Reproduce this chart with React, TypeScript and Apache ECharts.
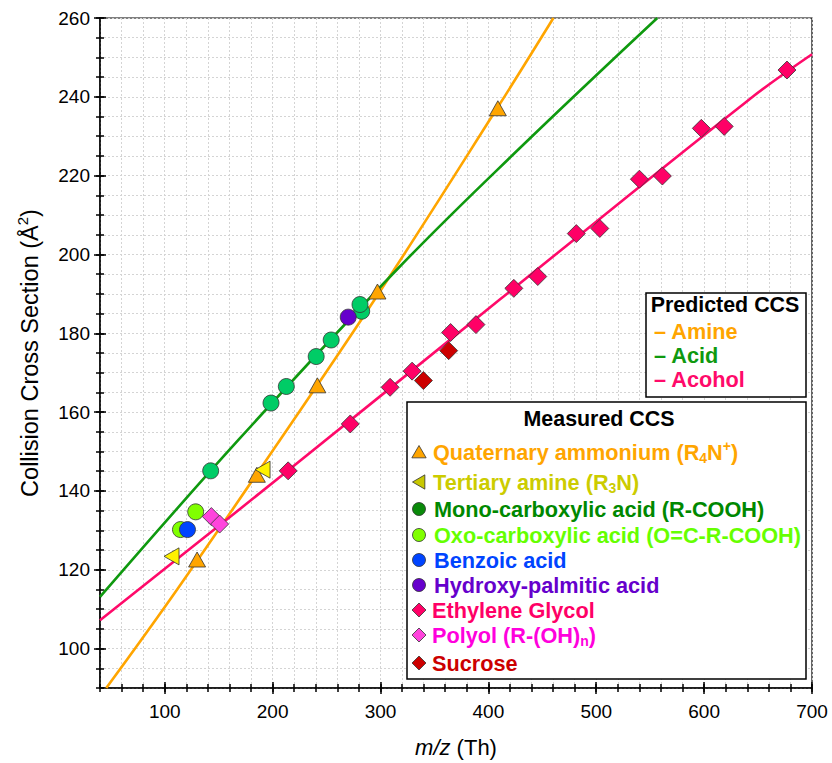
import React, { useEffect, useRef } from 'react';
import * as echarts from 'echarts';

// ---------- data ----------
const xLabelValues = [100, 200, 300, 400, 500, 600, 700];
const yLabelValues = [100, 120, 140, 160, 180, 200, 220, 240, 260];

// predicted CCS curves
const amineFit = [[45.8, 90], [111.5, 115], [207, 153], [300.4, 191], [408.8, 237.4], [460.3, 260]];
const acidFit = [[40, 113.1], [168.5, 153], [316.4, 196.5], [427.3, 226.5], [556.6, 260]];
const alcoholFit = [[40, 107.2], [214, 145.1], [410.3, 188.5], [639.8, 238.9], [700, 250.8]];

// measured CCS
const quaternaryAmmonium = [[130, 122.6], [185.4, 144.1], [241.5, 166.8], [297.2, 190.6], [408.8, 237.1]];
const tertiaryAmine = [[106.3, 123.4], [190.7, 145.4]];
const monoCarboxylic = [[142.6, 145.1], [198.5, 162.3], [212.7, 166.5], [240.4, 174.1], [254.3, 178.3], [282.6, 185.6], [281, 187.3]];
const oxoCarboxylic = [[114.6, 130.2], [128.7, 134.7]];
const benzoicAcid = [[121.1, 130.2]];
const hydroxyPalmitic = [[270.1, 184.1]];
const sucrose = [[339.8, 168.0], [363.2, 175.6]];
const ethyleneGlycol = [[214.4, 145.1], [272, 157], [308.9, 166.3], [329.3, 170.4], [365, 180.2], [388.5, 182.2], [423.6, 191.4], [445.8, 194.4], [481.5, 205.3], [503.3, 206.6], [540, 219.1], [561.3, 219.9], [597.4, 232], [618.6, 232.5], [676.8, 246.8]];
const polyol = [[143.2, 133.5], [150.9, 131.6]];

const FONT = '"Liberation Sans", Arial, Helvetica, sans-serif';
const LEG_FS = 21.7;
const TITLE_FS = 21.4;

const C = {
  amine: '#FFA500',
  acidLine: '#0F990F',
  alcohol: '#FF0A6A',
  tertiary: '#FFF200',
  tertiaryText: '#CCCC00',
  mono: '#00CC66',
  monoLegend: '#0A8A0A',
  monoText: '#008800',
  oxo: '#80FF00',
  oxoText: '#66FF00',
  benzoic: '#0044FF',
  hydroxy: '#6600CC',
  ethylene: '#FF0066',
  polyol: '#FF44DD',
  polyolText: '#FF00DD',
  sucrose: '#CC0000',
};

const lineSeries = (name: string, data: number[][], color: string) => ({
  name,
  type: 'line',
  data,
  smooth: 0.4,
  showSymbol: false,
  symbol: 'none',
  lineStyle: { color, width: 2.6 },
  z: 2,
  silent: true,
});

const scatterSeries = (name: string, data: number[][], color: string, symbol: string, size: any, rotate = 0) => ({
  name,
  type: 'scatter',
  data,
  symbol,
  symbolSize: size,
  symbolRotate: rotate,
  itemStyle: { color, borderColor: '#333', borderWidth: 0.8, opacity: 1 },
  z: 3,
});

const legendText = (x: number, y: number, text: string, color: string) => ({
  type: 'text',
  x,
  y,
  z: 101,
  style: {
    text,
    fill: color,
    font: `bold ${LEG_FS}px ${FONT}`,
    fontSize: LEG_FS,
    fontWeight: 'bold',
    fontFamily: FONT,
    align: 'left',
    textAlign: 'left',
    verticalAlign: 'middle',
    textVerticalAlign: 'middle',
    rich: {
      sub: { fill: color, fontSize: 14, fontWeight: 'bold', fontFamily: FONT, padding: [11, 0, 0, 0] },
      sup: { fill: color, fontSize: 14, fontWeight: 'bold', fontFamily: FONT, padding: [0, 0, 13, 0] },
    },
  },
});

const tri = (cx: number, cy: number, s: number, fill: string, dir: 'up' | 'left') => ({
  type: 'polygon',
  z: 101,
  shape: {
    points: dir === 'up'
      ? [[cx, cy - s * 0.5], [cx + s * 0.55, cy + s * 0.45], [cx - s * 0.55, cy + s * 0.45]]
      : [[cx - s * 0.5, cy], [cx + s * 0.45, cy - s * 0.55], [cx + s * 0.45, cy + s * 0.55]],
  },
  style: { fill, stroke: '#333', lineWidth: 0.8 },
});
const circ = (cx: number, cy: number, r: number, fill: string) => ({
  type: 'circle', z: 101, shape: { cx, cy, r }, style: { fill, stroke: '#333', lineWidth: 0.8 },
});
const diam = (cx: number, cy: number, s: number, fill: string) => ({
  type: 'polygon', z: 101,
  shape: { points: [[cx, cy - s / 2], [cx + s / 2, cy], [cx, cy + s / 2], [cx - s / 2, cy]] },
  style: { fill, stroke: '#333', lineWidth: 0.8 },
});

const gridLine = { show: true, lineStyle: { color: '#d4d4d4', width: 1, type: [2, 2] as any } };
const tickStyle = { color: '#000', width: 1.5 };

export default function App() {
  const ref = useRef<HTMLDivElement>(null);
  useEffect(() => {
    if (!ref.current) return;
    const chart = echarts.init(ref.current, null, { renderer: 'svg' });

    const baseX = { type: 'value', min: 40, max: 700, position: 'bottom', gridIndex: 0 };
    const baseY = { type: 'value', min: 90, max: 260, position: 'left', gridIndex: 0 };

    const option: any = {
      animation: false,
      backgroundColor: '#fff',
      grid: { left: 100, top: 18, width: 712, height: 670, show: true, borderColor: '#000', borderWidth: 1.2, backgroundColor: 'transparent' },
      xAxis: [
        {
          ...baseX,
          axisLine: { show: true, onZero: false, lineStyle: { color: '#000', width: 1.5 } },
          axisTick: { show: true, customValues: xLabelValues, length: 6, lineStyle: tickStyle },
          axisLabel: { customValues: xLabelValues, fontSize: 19, color: '#000', fontFamily: FONT, margin: 14 },
          splitLine: { show: false },
          name: '{i|m/z} (Th)',
          nameLocation: 'middle',
          nameGap: 48,
          nameTextStyle: {
            fontSize: 22, color: '#000', fontFamily: FONT,
            rich: { i: { fontSize: 22, fontStyle: 'italic', color: '#000', fontFamily: FONT } },
          },
        },
        { ...baseX, interval: 20, axisLine: { show: false, onZero: false }, axisTick: { show: true, length: 4, lineStyle: tickStyle }, axisLabel: { show: false }, splitLine: gridLine },
        { ...baseX, interval: 20, axisLine: { show: false, onZero: false }, axisTick: { show: true, inside: true, length: 4, lineStyle: tickStyle }, axisLabel: { show: false }, splitLine: { show: false } },
        { ...baseX, axisLine: { show: false, onZero: false }, axisTick: { show: true, inside: true, customValues: xLabelValues, length: 6, lineStyle: tickStyle }, axisLabel: { show: false }, splitLine: { show: false } },
      ],
      yAxis: [
        {
          ...baseY,
          axisLine: { show: true, onZero: false, lineStyle: { color: '#000', width: 1.5 } },
          axisTick: { show: true, customValues: yLabelValues, length: 6, lineStyle: tickStyle },
          axisLabel: { customValues: yLabelValues, fontSize: 19, color: '#000', fontFamily: FONT, margin: 10 },
          splitLine: { show: false },
          name: 'Collision Cross Section (Å{sup|2})',
          nameLocation: 'middle',
          nameGap: 55,
          nameTextStyle: {
            fontSize: 23.5, color: '#000', fontFamily: FONT,
            rich: { sup: { fontSize: 15, color: '#000', fontFamily: FONT, padding: [0, 0, 15, 0] } },
          },
        },
        { ...baseY, interval: 5, axisLine: { show: false, onZero: false }, axisTick: { show: true, length: 4, lineStyle: tickStyle }, axisLabel: { show: false }, splitLine: gridLine },
        { ...baseY, interval: 5, axisLine: { show: false, onZero: false }, axisTick: { show: true, inside: true, length: 4, lineStyle: tickStyle }, axisLabel: { show: false }, splitLine: { show: false } },
        { ...baseY, axisLine: { show: false, onZero: false }, axisTick: { show: true, inside: true, customValues: yLabelValues, length: 6, lineStyle: tickStyle }, axisLabel: { show: false }, splitLine: { show: false } },
      ],
      series: [
        lineSeries('Amine', amineFit, C.amine),
        lineSeries('Acid', acidFit, C.acidLine),
        lineSeries('Acohol', alcoholFit, C.alcohol),
        scatterSeries('Quaternary ammonium', quaternaryAmmonium, C.amine, 'triangle', [17, 15]),
        scatterSeries('Tertiary amine', tertiaryAmine, C.tertiary, 'triangle', [17, 15], 90),
        scatterSeries('Mono-carboxylic acid', monoCarboxylic, C.mono, 'circle', 16),
        scatterSeries('Oxo-carboxylic acid', oxoCarboxylic, C.oxo, 'circle', 16),
        scatterSeries('Benzoic acid', benzoicAcid, C.benzoic, 'circle', 16),
        scatterSeries('Hydroxy-palmitic acid', hydroxyPalmitic, C.hydroxy, 'circle', 16),
        scatterSeries('Sucrose', sucrose, C.sucrose, 'diamond', 18),
        scatterSeries('Ethylene Glycol', ethyleneGlycol, C.ethylene, 'diamond', 18),
        scatterSeries('Polyol', polyol, C.polyol, 'diamond', 18),
      ],
      graphic: [
        // Predicted CCS box
        { type: 'rect', z: 100, shape: { x: 646, y: 293, width: 160, height: 104 }, style: { fill: '#fff', stroke: '#000', lineWidth: 1.5 } },
        { type: 'text', z: 101, x: 725, y: 305, style: { text: 'Predicted CCS', fill: '#000', font: `bold ${TITLE_FS}px ${FONT}`, align: 'center', textAlign: 'center', verticalAlign: 'middle', textVerticalAlign: 'middle' } },
        legendText(654, 331, '– Amine', C.amine),
        legendText(654, 355, '– Acid', C.acidLine),
        legendText(654, 379, '– Acohol', C.alcohol),
        // Measured CCS box
        { type: 'rect', z: 100, shape: { x: 407, y: 402, width: 399, height: 277 }, style: { fill: '#fff', stroke: '#000', lineWidth: 1.5 } },
        { type: 'text', z: 101, x: 599, y: 419, style: { text: 'Measured CCS', fill: '#000', font: `bold ${TITLE_FS}px ${FONT}`, align: 'center', textAlign: 'center', verticalAlign: 'middle', textVerticalAlign: 'middle' } },
        tri(419, 452, 13, C.amine, 'up'),
        legendText(433, 452, 'Quaternary ammonium (R{sub|4}N{sup|+})', C.amine),
        tri(419, 482, 13, '#C8C800', 'left'),
        legendText(433, 482, 'Tertiary amine (R{sub|3}N)', C.tertiaryText),
        circ(419, 509, 6.5, C.monoLegend),
        legendText(434, 509, 'Mono-carboxylic acid (R-COOH)', C.monoText),
        circ(419, 535, 6.5, C.oxo),
        legendText(434, 535, 'Oxo-carboxylic acid (O=C-R-COOH)', C.oxoText),
        circ(419, 560, 6.5, C.benzoic),
        legendText(434, 560, 'Benzoic acid', C.benzoic),
        circ(419, 585, 6.5, C.hydroxy),
        legendText(434, 585, 'Hydroxy-palmitic acid', C.hydroxy),
        diam(419, 610, 14, C.ethylene),
        legendText(432, 610, 'Ethylene Glycol', C.ethylene),
        diam(419, 635, 14, C.polyol),
        legendText(432, 635, 'Polyol (R-(OH){sub|n})', C.polyolText),
        diam(419, 663, 14, C.sucrose),
        legendText(432, 663, 'Sucrose', C.sucrose),
      ],
    };
    chart.setOption(option);
    return () => chart.dispose();
  }, []);
  return <div ref={ref} style={{ position: 'absolute', left: 0, top: 0, width: 832, height: 763 }} />;
}
